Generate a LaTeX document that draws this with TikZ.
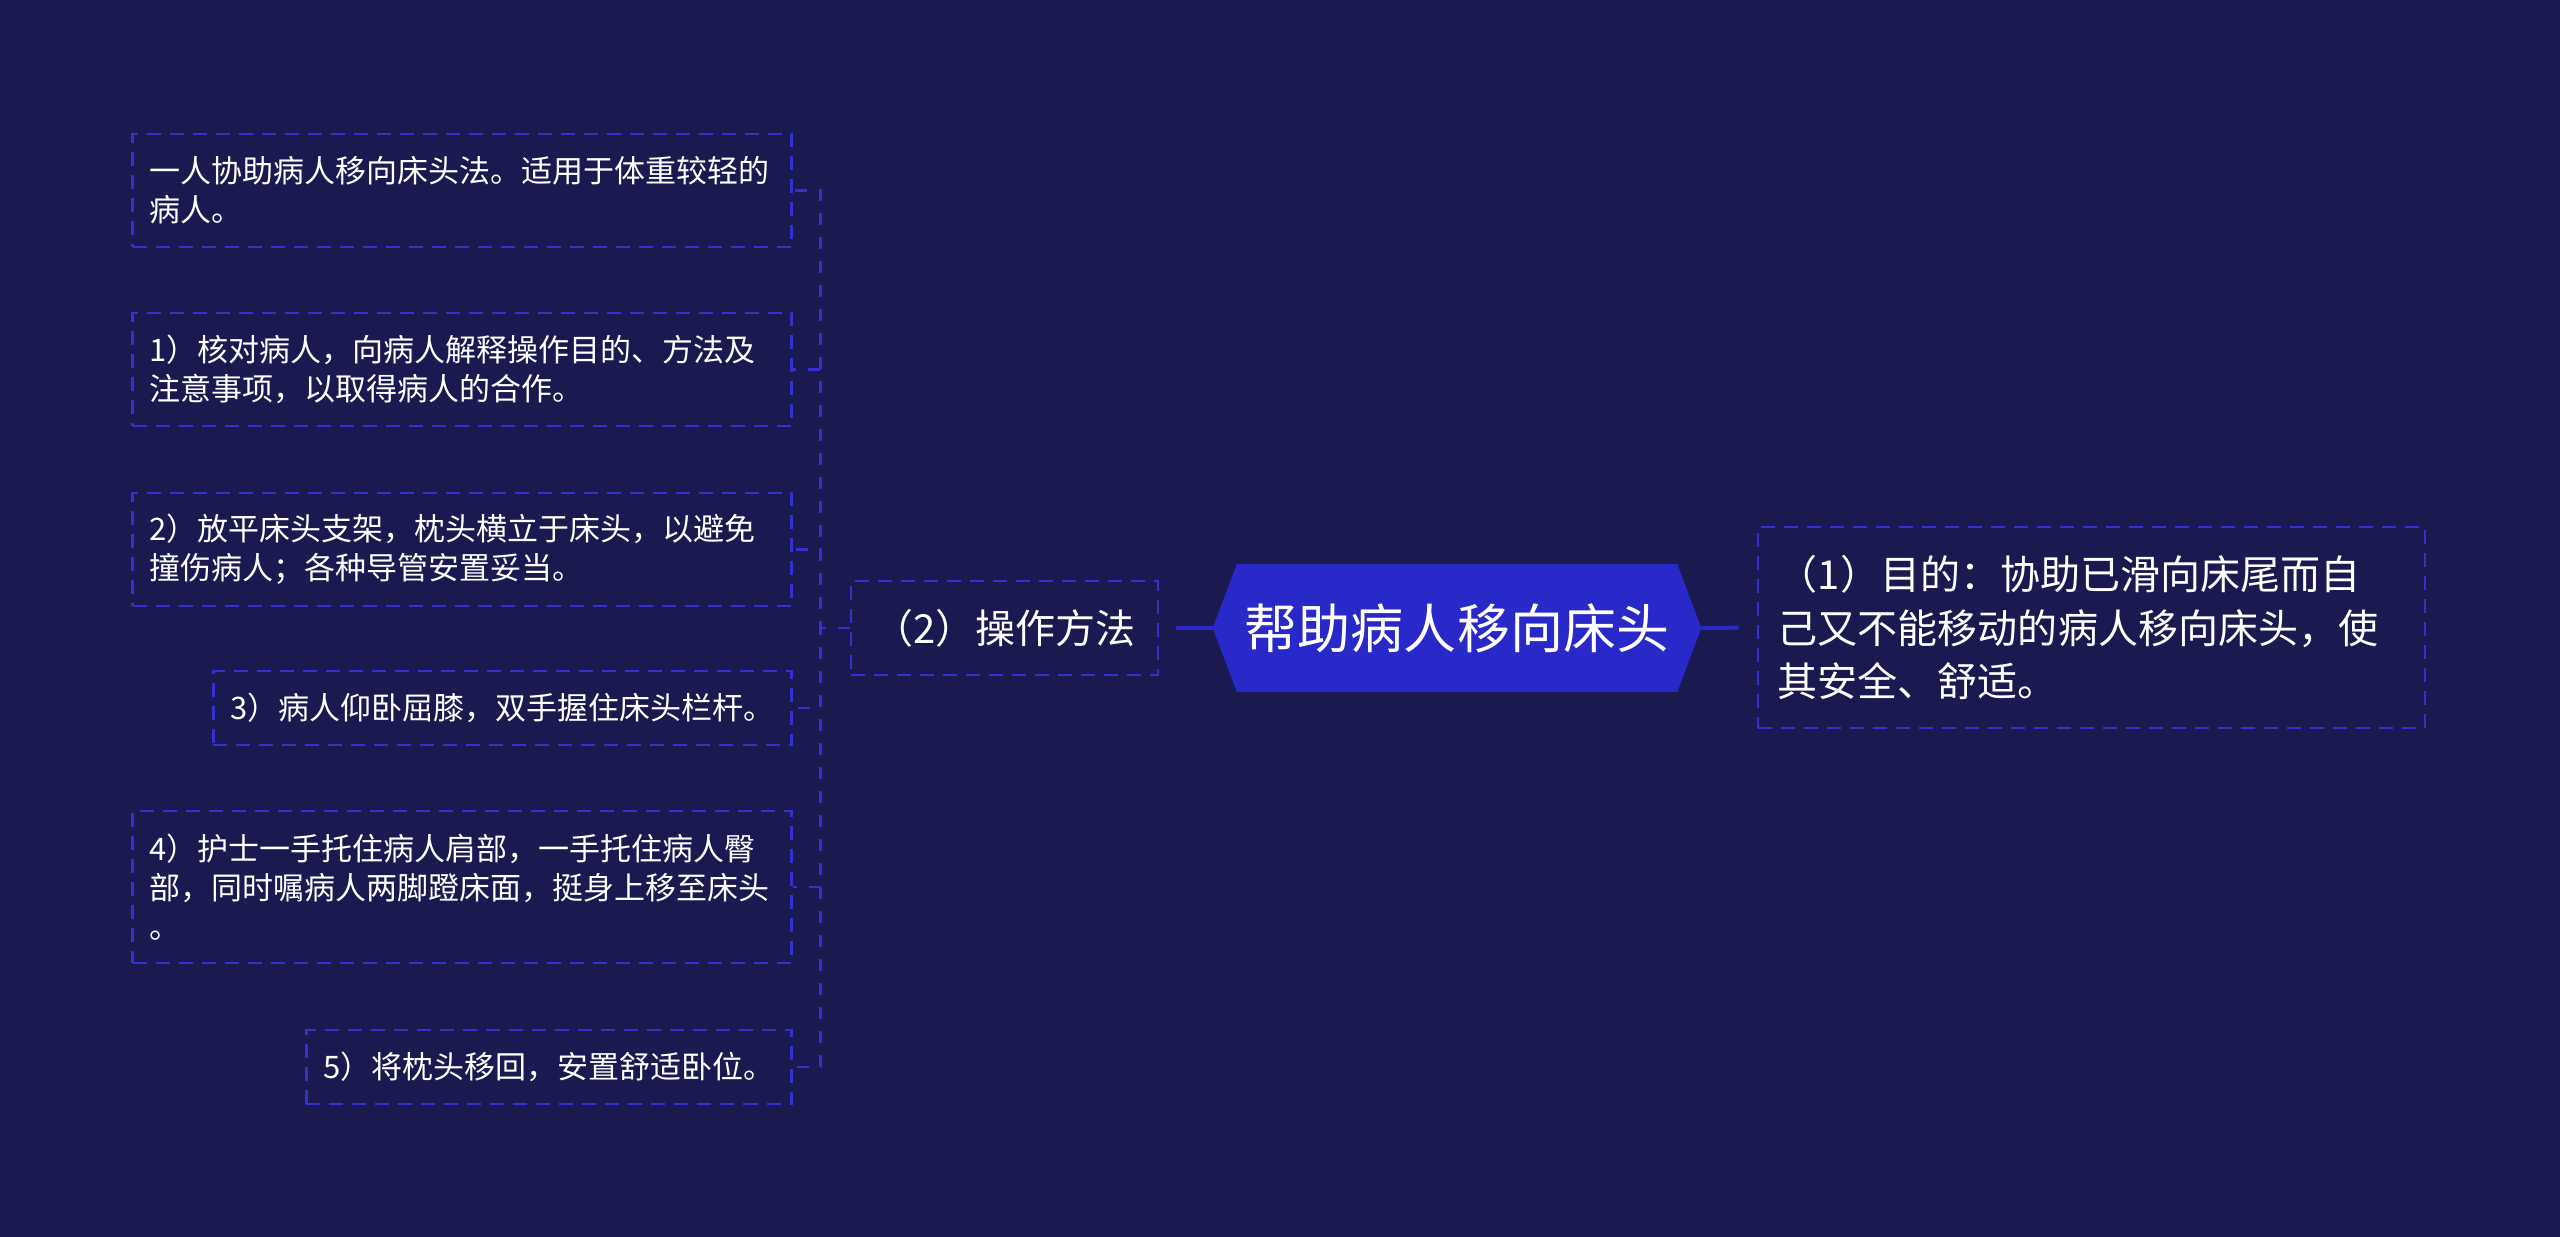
\documentclass[tikz,border=0pt]{standalone}
\usepackage{fontspec}
\setmainfont{Noto Sans CJK SC}
\usetikzlibrary{backgrounds}
\definecolor{navy}{RGB}{26,25,80}
\definecolor{hexblue}{RGB}{41,40,201}
\definecolor{dashblue}{RGB}{50,50,210}
\tikzset{
  leafbox/.style={draw=dashblue, line width=0.065cm, dash pattern=on 0.35cm off 0.225cm,
    text=white, font=\fontsize{7.75mm}{9.75mm}\selectfont, align=left,
    inner xsep=0.425cm, inner ysep=0pt, anchor=east},
  wide/.style={text width=15.625cm},
  narrow/.style={},
  link/.style={draw=dashblue, line width=0.065cm, dash pattern=on 0.3cm off 0.3cm},
  trunk/.style={draw=hexblue, line width=0.1cm}
}
\begin{document}
\begin{tikzpicture}[x=0.025cm, y=-0.025cm]
  \useasboundingbox (0,0) rectangle (2560,1237);
  \node[text=white, font=\fontsize{13.25mm}{16mm}\selectfont, minimum width=11cm,
    minimum height=3.175cm, inner sep=0pt] (root) at (1457,628) {帮助病人移向床头};
  \node[leafbox, anchor=center, font=\fontsize{10mm}{13mm}\selectfont,
    minimum width=7.675cm, minimum height=2.35cm] (method) at (1004.5,628) {（2）操作方法};
  \node[leafbox, anchor=center, font=\fontsize{10mm}{13.25mm}\selectfont, text width=15.675cm,
    inner xsep=0.5cm, minimum height=5.025cm] (aim) at (2091.5,627.5)
    {（1）目的：协助已滑向床尾而自\\己又不能移动的病人移向床头，使\\其安全、舒适。};
  \foreach \n/\y/\bh/\bw/\txt in {
    0/190.5/2.825/wide/{一人协助病人移向床头法。适用于体重较轻的\\病人。},
    1/369.5/2.825/wide/{1）核对病人，向病人解释操作目的、方法及\\注意事项，以取得病人的合作。},
    2/549.5/2.825/wide/{2）放平床头支架，枕头横立于床头，以避免\\撞伤病人；各种导管安置妥当。},
    3/708/1.85/narrow/{3）病人仰卧屈膝，双手握住床头栏杆。},
    4/887/3.8/wide/{4）护士一手托住病人肩部，一手托住病人臀\\部，同时嘱病人两脚蹬床面，挺身上移至床头\\。},
    5/1067/1.85/narrow/{5）将枕头移回，安置舒适卧位。}}
  {
    \node[leafbox, \bw, minimum height=\bh cm] (s\n) at (793,\y) {\txt};
    \draw[link] (method.west) -- ++(-29,0) |- (s\n.east);
  }
  \draw[trunk, shorten >=0.425cm] ([xshift=-0.6cm]root.west) -- (method.east);
  \draw[trunk, shorten >=0.45cm] ([xshift=0.6cm]root.east) -- (aim.west);
  \begin{scope}[on background layer]
    \fill[navy] (0,0) rectangle (2560,1237);
    \fill[hexblue] (root.north west) -- (root.north east) -- ([xshift=0.6cm]root.east)
      -- (root.south east) -- (root.south west) -- ([xshift=-0.6cm]root.west) -- cycle;
  \end{scope}
\end{tikzpicture}
\end{document}
